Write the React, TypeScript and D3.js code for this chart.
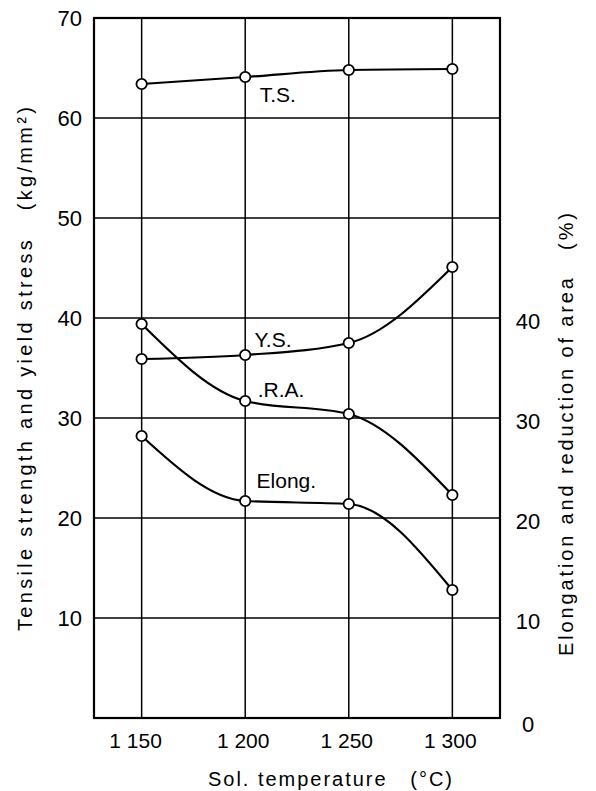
import React from 'react';
import * as d3 from 'd3';

// solution temperature (°C)
const temps = [1150, 1200, 1250, 1300];
const tempLabels = ['1 150', '1 200', '1 250', '1 300'];

// kg/mm² (left axis)
const tensileStrength = [63.4, 64.1, 64.8, 64.9];
const yieldStress = [35.9, 36.3, 37.5, 45.1];

// % (right axis)
const reductionOfArea = [39.4, 31.7, 30.4, 22.3];
const elongation = [28.2, 21.7, 21.4, 12.8];

const leftTicks = [10, 20, 30, 40, 50, 60, 70];
const rightTicks = [0, 10, 20, 30, 40];
const gridValues = [10, 20, 30, 40, 50, 60];

const seriesLabels = [
  { name: 'T.S.', t: 1207, v: 61.6 },
  { name: 'Y.S.', t: 1204.5, v: 37.1 },
  { name: '.R.A.', t: 1206, v: 32.1 },
  { name: 'Elong.', t: 1205.5, v: 23.0 },
];

const W = 596;
const H = 791;
const font = '"Liberation Sans", Arial, sans-serif';

const App = () => {
  const x = d3.scaleLinear().domain([1127, 1323]).range([94, 500]);
  const y = d3.scaleLinear().domain([0, 70]).range([718, 18]);

  const line = d3
    .line<[number, number]>()
    .x(d => x(d[0]))
    .y(d => y(d[1]))
    .curve(d3.curveMonotoneX);

  const series = [tensileStrength, yieldStress, reductionOfArea, elongation];

  return (
    <svg
      width={W}
      height={H}
      style={{ position: 'absolute', left: 0, top: 0, background: '#fff' }}
      fontFamily={font}
    >
      {/* grid */}
      {gridValues.map(v => (
        <line key={'h' + v} x1={x.range()[0]} x2={x.range()[1]} y1={y(v)} y2={y(v)}
          stroke="#000" strokeWidth={1.5} />
      ))}
      {temps.map(t => (
        <line key={'v' + t} x1={x(t)} x2={x(t)} y1={y(70)} y2={y(0)}
          stroke="#000" strokeWidth={1.5} />
      ))}
      <rect x={x.range()[0]} y={y(70)} width={x.range()[1] - x.range()[0]} height={y(0) - y(70)}
        fill="none" stroke="#000" strokeWidth={2.2} />

      {/* curves */}
      {series.map((vals, i) => (
        <path key={'s' + i} d={line(temps.map((t, j) => [t, vals[j]]) as [number, number][]) || ''}
          fill="none" stroke="#000" strokeWidth={2.2} />
      ))}
      {series.map((vals, i) =>
        vals.map((v, j) => (
          <circle key={'c' + i + '-' + j} cx={x(temps[j])} cy={y(v)} r={5.2}
            fill="#fff" stroke="#000" strokeWidth={1.8} />
        ))
      )}

      {/* curve labels */}
      {seriesLabels.map(l => (
        <text key={l.name} x={x(l.t)} y={y(l.v)} fontSize={21} fill="#000">{l.name}</text>
      ))}

      {/* left axis labels */}
      {leftTicks.map(v => (
        <text key={'l' + v} x={82} y={y(v)} dy="0.36em" textAnchor="end" fontSize={22} fill="#000">
          {v}
        </text>
      ))}
      {/* right axis labels */}
      {rightTicks.map(v => (
        <text key={'r' + v} x={528} y={y(v) + (v === 0 ? 6 : 3)} dy="0.36em" textAnchor="middle"
          fontSize={22} fill="#000">
          {v}
        </text>
      ))}
      {/* x tick labels */}
      {temps.map((t, i) => (
        <text key={'x' + t} x={x(t) - (i === 0 ? 6 : 2)} y={748} textAnchor="middle" fontSize={21} fill="#000">
          {tempLabels[i]}
        </text>
      ))}

      {/* axis titles */}
      <text x={208} y={786} fontSize={20} fill="#000" textLength={244} lengthAdjust="spacing">
        Sol. temperature{'\u00a0\u00a0\u00a0'}(°C)
      </text>
      <text transform="translate(32,631) rotate(-90)" fontSize={20} fill="#000"
        textLength={524} lengthAdjust="spacing">
        Tensile strength and yield stress{'\u00a0\u00a0\u00a0'}(kg/mm²)
      </text>
      <text transform="translate(573,656) rotate(-90)" fontSize={20} fill="#000"
        textLength={443} lengthAdjust="spacing">
        Elongation and reduction of area{'\u00a0\u00a0\u00a0'}(%)
      </text>
    </svg>
  );
};

export default App;
